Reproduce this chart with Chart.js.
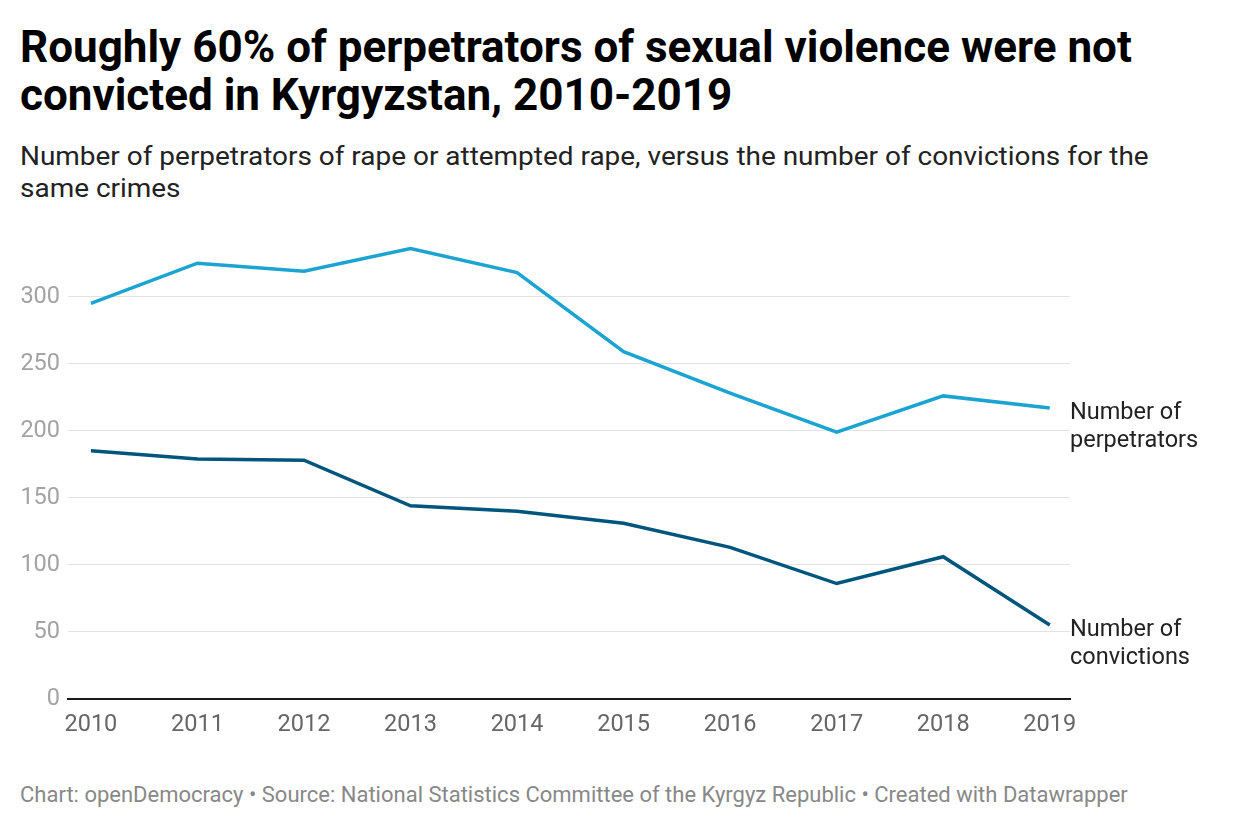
<!DOCTYPE html>
<html>
<head>
<meta charset="utf-8">
<script src="https://cdn.jsdelivr.net/npm/chart.js@4"></script>
<style>
    body { margin: 0; background: #fff; font-family: Roboto, sans-serif; }
    #title { position: absolute; left: 20px; top: 23px; font-size: 44px; font-weight: 700; line-height: 48px; color: #000; width: 1150px; }
    #subtitle { position: absolute; left: 20px; top: 141px; font-size: 25px; line-height: 32px; color: #222; width: 1040px; transform: scaleX(1.118); transform-origin: 0 0; }
    #footer { position: absolute; left: 20px; top: 782px; font-size: 22px; color: #888; white-space: nowrap; }
    #wrap { position: absolute; left: 0; top: 221px; width: 1240px; height: 530px; }
</style>
</head>
<body>
<div id="title">Roughly 60% of perpetrators of sexual violence were not convicted in Kyrgyzstan, 2010-2019</div>
<div id="subtitle">Number of perpetrators of rape or attempted rape, versus the number of convictions for the same crimes</div>
<div id="wrap"><canvas id="canvas"></canvas></div>
<div id="footer">Chart: openDemocracy • Source: National Statistics Committee of the Kyrgyz Republic • Created with Datawrapper</div>
<script>
const years = [2010, 2011, 2012, 2013, 2014, 2015, 2016, 2017, 2018, 2019];
const perpetrators = [295, 325, 319, 336, 318, 259, 228, 199, 226, 217];
const convictions = [185, 179, 178, 144, 140, 131, 113, 86, 106, 55];
const yTicks = [0, 50, 100, 150, 200, 250, 300];
const seriesLabels = [['Number of', 'perpetrators'], ['Number of', 'convictions']];

const ctx = document.getElementById('canvas');

// series names written at the end of each line
const endLabels = {
    id: 'endLabels',
    afterDatasetsDraw(chart) {
        const c = chart.ctx;
        c.save();
        c.font = '23.5px Roboto';
        c.fillStyle = '#222';
        c.textBaseline = 'middle';
        c.textAlign = 'left';
        chart.data.datasets.forEach((ds, i) => {
            const pts = chart.getDatasetMeta(i).data;
            const last = pts[pts.length - 1];
            seriesLabels[i].forEach((line, j) => {
                c.fillText(line, chart.chartArea.right, last.y + 5 + j * 28);
            });
        });
        c.restore();
    }
};

new Chart(ctx, {
    type: 'line',
    data: {
        datasets: [{
            label: 'Number of perpetrators',
            data: years.map((y, i) => ({x: y, y: perpetrators[i]})),
            borderColor: '#1ba3d1',
            borderWidth: 3.5,
            pointRadius: 0,
            fill: false
        }, {
            label: 'Number of convictions',
            data: years.map((y, i) => ({x: y, y: convictions[i]})),
            borderColor: '#00557d',
            borderWidth: 3.5,
            pointRadius: 0,
            fill: false
        }]
    },
    options: {
        responsive: true,
        maintainAspectRatio: false,
        animation: false,
        layout: { padding: { left: 0, right: 170, top: 0, bottom: 0 } },
        plugins: { legend: { display: false }, tooltip: { enabled: false } },
        scales: {
            x: {
                type: 'linear',
                min: 2009.785,
                max: 2019.19,
                afterBuildTicks: s => { s.ticks = years.map(v => ({value: v})); },
                grid: { display: false, drawTicks: false },
                border: { display: true, color: '#1a1a1a', width: 2 },
                ticks: {
                    padding: 12,
                    color: '#666',
                    font: { family: 'Roboto', size: 23.5 },
                    callback: v => String(v)
                }
            },
            y: {
                min: 0,
                max: 340,
                afterBuildTicks: s => { s.ticks = yTicks.map(v => ({value: v})); },
                afterFit: s => { s.width = 68; },
                grid: { color: '#e3e3e3', lineWidth: 1, drawTicks: false },
                border: { display: false },
                ticks: {
                    padding: 8,
                    color: '#a3a3a3',
                    font: { family: 'Roboto', size: 23.5 }
                }
            }
        }
    },
    plugins: [endLabels]
});
</script>
</body>
</html>
